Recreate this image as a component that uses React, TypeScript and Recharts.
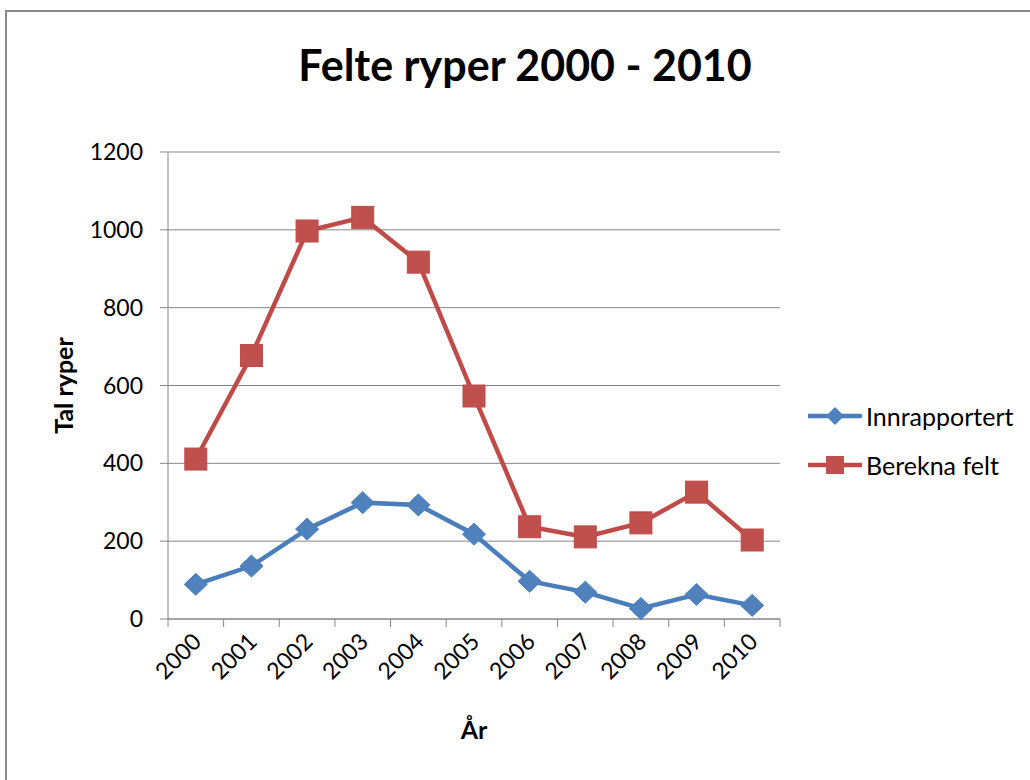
import React from 'react';
import { LineChart, Line, XAxis, YAxis, CartesianGrid } from 'recharts';

const years = ['2000', '2001', '2002', '2003', '2004', '2005', '2006', '2007', '2008', '2009', '2010'];
const innrapportert = [89, 136, 231, 299, 293, 218, 97, 69, 27, 63, 35];
const berekna = [411, 677, 997, 1032, 917, 573, 237, 211, 247, 326, 203];
const yTicks = [0, 200, 400, 600, 800, 1000, 1200];
const seriesNames = ['Innrapportert', 'Berekna felt'];
const seriesColors = ['#4A7EBB', '#BE4B48'];
const markerColors = ['#4F81BD', '#C0504D'];

const data = years.map((y, i) => ({ idx: i, year: y, innrapportert: innrapportert[i], berekna: berekna[i] }));
const xTicks: number[] = [];
years.forEach((_, i) => { xTicks.push(i - 0.5); xTicks.push(i); });
xTicks.push(years.length - 0.5);

const FONT = 'Lato, "Open Sans", sans-serif';
const GRID = '#868686';

const XTick = (props: any) => {
  const { x, y, payload } = props;
  const v = payload.value;
  if (Number.isInteger(v)) {
    const ax = x + 7;
    const ay = y + 16;
    return (
      <text x={ax} y={ay} transform={`rotate(-45 ${ax} ${ay})`} textAnchor="end" fontSize={23} fill="#000" fontFamily={FONT}>
        {years[v]}
      </text>
    );
  }
  return <line x1={x} x2={x} y1={y - 8} y2={y} stroke={GRID} strokeWidth={1} />;
};

const Diamond = (props: any) => {
  const { cx, cy } = props;
  if (cx == null || cy == null) return null;
  const rx = 11.5;
  const ry = 11;
  return <polygon points={`${cx},${cy - ry} ${cx + rx},${cy} ${cx},${cy + ry} ${cx - rx},${cy}`} fill={markerColors[0]} stroke={seriesColors[0]} strokeWidth={1} />;
};

const Square = (props: any) => {
  const { cx, cy } = props;
  if (cx == null || cy == null) return null;
  const s = 11;
  return <rect x={cx - s} y={cy - s} width={2 * s} height={2 * s} fill={markerColors[1]} stroke={seriesColors[1]} strokeWidth={1} />;
};

const YLabel = (props: any) => {
  const vb = props.viewBox || {};
  const x = vb.x + 13;
  const y = vb.y + vb.height / 2;
  return (
    <text x={x} y={y} transform={`rotate(-90 ${x} ${y})`} textAnchor="middle" dominantBaseline="central" fontSize={25} fontWeight="bold" fill="#000" fontFamily={FONT}>
      Tal ryper
    </text>
  );
};

const XLabel = (props: any) => {
  const vb = props.viewBox || {};
  const x = vb.x + vb.width / 2;
  const y = vb.y + vb.height - 10;
  return (
    <text x={x} y={y} textAnchor="middle" fontSize={25} fontWeight="bold" fill="#000" fontFamily={FONT}>
      År
    </text>
  );
};

export default function App() {
  return (
    <div style={{ position: 'absolute', left: 0, top: 0, width: 1030, height: 780, overflow: 'hidden', background: '#fff' }}>
      <div style={{ position: 'absolute', left: 5, top: 10, width: 1100, height: 900, border: '2px solid #8a8a8a' }} />
      <div style={{ position: 'absolute', left: 0, top: 39, width: 1050, textAlign: 'center', fontFamily: FONT, fontWeight: 'bold', fontSize: 43, color: '#000', lineHeight: '52px' }}>
        Felte ryper 2000 - 2010
      </div>
      <div style={{ position: 'absolute', left: 0, top: 0 }}>
        <LineChart width={1030} height={780} data={data} margin={{ top: 152, right: 250, bottom: 31, left: 50 }}>
          <CartesianGrid vertical={false} stroke={GRID} strokeWidth={1} />
          <XAxis
            dataKey="idx"
            type="number"
            domain={[-0.5, years.length - 0.5]}
            ticks={xTicks}
            interval={0}
            tickLine={false}
            tickSize={8}
            tickMargin={0}
            axisLine={{ stroke: GRID, strokeWidth: 1 }}
            tick={<XTick />}
            height={130}
            label={<XLabel />}
          />
          <YAxis
            domain={[0, 1200]}
            ticks={yTicks}
            interval={0}
            width={118}
            tickSize={8}
            tickMargin={17}
            tickLine={{ stroke: GRID }}
            axisLine={{ stroke: GRID, strokeWidth: 1 }}
            tick={{ fontSize: 23, fill: '#000', fontFamily: FONT }}
            label={<YLabel />}
          />
          <Line dataKey="innrapportert" name={seriesNames[0]} stroke={seriesColors[0]} strokeWidth={4.5} dot={<Diamond />} activeDot={false} isAnimationActive={false} />
          <Line dataKey="berekna" name={seriesNames[1]} stroke={seriesColors[1]} strokeWidth={4.5} dot={<Square />} activeDot={false} isAnimationActive={false} />
        </LineChart>
      </div>
      <svg style={{ position: 'absolute', left: 800, top: 390 }} width={230} height={100}>
        {seriesNames.map((n, i) => {
          const cy = 26 + i * 49;
          return (
            <g key={n}>
              <line x1={8} x2={62} y1={cy} y2={cy} stroke={seriesColors[i]} strokeWidth={4.5} />
              {i === 0 ? (
                <polygon points={`35,${cy - 9} 44,${cy} 35,${cy + 9} 26,${cy}`} fill={markerColors[0]} />
              ) : (
                <rect x={26} y={cy - 9} width={18} height={18} fill={markerColors[1]} />
              )}
              <text x={66} y={cy} dominantBaseline="central" fontSize={25} fill="#000" fontFamily={FONT}>{n}</text>
            </g>
          );
        })}
      </svg>
    </div>
  );
}
